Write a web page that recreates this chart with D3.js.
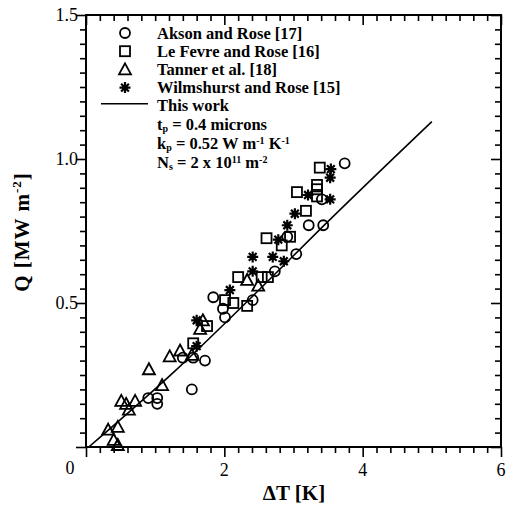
<!DOCTYPE html>
<html><head><meta charset="utf-8">
<script src="https://cdn.jsdelivr.net/npm/d3@7/dist/d3.min.js"></script>
<style>
html,body{margin:0;padding:0;background:#fff;}
svg text{font-family:"Liberation Serif","Times New Roman",serif;fill:#000;}
</style></head>
<body><svg id="c" width="513" height="507"></svg>
<script>
// ---- data (ΔT [K], Q [MW m^-2]) ----
const aksonRose = [[0.90,0.17],[1.03,0.17],[1.03,0.15],[1.53,0.20],[1.40,0.31],[1.55,0.31],[1.72,0.30],
  [1.84,0.52],[1.98,0.48],[2.01,0.45],[2.41,0.51],[2.73,0.61],[2.91,0.73],[3.04,0.67],[3.22,0.77],[3.43,0.77],[3.41,0.86],[3.74,0.985]];
const leFevreRose = [[1.55,0.36],[1.75,0.42],[2.01,0.51],[2.13,0.50],[2.33,0.49],[2.20,0.59],[2.54,0.59],[2.63,0.59],
  [2.61,0.725],[2.83,0.70],[2.95,0.73],[3.18,0.82],[3.05,0.885],[3.34,0.91],[3.34,0.895],[3.34,0.87],[3.38,0.97]];
const tanner = [[0.32,0.06],[0.46,0.07],[0.40,0.025],[0.46,0.007],[0.51,0.16],[0.71,0.16],[0.58,0.15],[0.62,0.13],
  [0.91,0.27],[1.10,0.215],[1.21,0.315],[1.36,0.335],[1.53,0.32],[1.69,0.44],[1.65,0.41],[2.33,0.58],[2.49,0.56]];
const wilmshurstRose = [[1.60,0.44],[1.60,0.35],[2.08,0.545],[2.41,0.61],[2.41,0.66],[2.70,0.66],[2.86,0.645],
  [2.78,0.72],[2.91,0.77],[3.02,0.81],[3.21,0.875],[3.53,0.86],[3.53,0.935],[3.54,0.965]];
const thisWork = [[0.04,0],[1.3,0.267],[2.5,0.545],[3.43,0.767],[5.0,1.13]];
const xTickLabels = [2,4,6];
const yTickLabels = [0.5,1.0,1.5];
const legendItems = ["Akson and Rose [17]","Le Fevre and Rose [16]","Tanner et al. [18]","Wilmshurst and Rose [15]"];

const svg = d3.select("#c");
const L=86, R=501, T=15, B=447;
const x = d3.scaleLinear().domain([0,6]).range([L,R]);
const y = d3.scaleLinear().domain([0,1.5]).range([B,T]);

const xMinor = d3.range(0,6.001,0.2).filter(v=>Math.abs(v/2-Math.round(v/2))>1e-6);
const yMinor = d3.range(0,1.5001,0.05).filter(v=>Math.abs(v/0.5-Math.round(v/0.5))>1e-6);
function ax(gen, tx, vals, len){
  const g = svg.append("g").attr("transform",tx).call(gen.tickValues(vals).tickSize(len).tickFormat(""));
  g.select(".domain").remove();
  g.selectAll("line").attr("stroke","#000").attr("stroke-width",1.6);
  return g;
}
ax(d3.axisBottom(x), `translate(0,${B})`, xMinor, 6);
ax(d3.axisBottom(x), `translate(0,${B})`, [0,2,4,6], 10);
ax(d3.axisTop(x), `translate(0,${T})`, xMinor, -6);
ax(d3.axisTop(x), `translate(0,${T})`, [0,2,4,6], -10);
ax(d3.axisLeft(y), `translate(${L},0)`, yMinor, 6);
ax(d3.axisLeft(y), `translate(${L},0)`, [0,0.5,1,1.5], 10);
ax(d3.axisRight(y), `translate(${R},0)`, yMinor, -6);
ax(d3.axisRight(y), `translate(${R},0)`, [0,0.5,1,1.5], -10);
svg.append("rect").attr("x",L).attr("y",T).attr("width",R-L).attr("height",B-T)
  .attr("fill","none").attr("stroke","#000").attr("stroke-width",2);

svg.selectAll(".xl").data(xTickLabels).enter().append("text")
  .attr("x",d=>x(d)).attr("y",B+29).attr("text-anchor","middle").attr("font-size",18).text(d=>d);
svg.append("text").attr("x",x(0)-16).attr("y",B+27).attr("text-anchor","middle").attr("font-size",18).text("0");
svg.selectAll(".yl").data(yTickLabels).enter().append("text")
  .attr("x",L-8).attr("y",d=>y(d)+6).attr("text-anchor","end").attr("font-size",18).text(d=>d.toFixed(1));

svg.append("text").attr("x",294).attr("y",500).attr("text-anchor","middle")
  .attr("font-size",21).attr("font-weight","bold").text("ΔT [K]");
const yt = svg.append("text").attr("transform","translate(29,232) rotate(-90)").attr("text-anchor","middle")
  .attr("font-size",21).attr("font-weight","bold").attr("letter-spacing",1);
yt.append("tspan").text("Q [MW m");
yt.append("tspan").attr("font-size",13).attr("dy",-8).text("-2");
yt.append("tspan").attr("dy",8).text("]");

svg.append("path").datum(thisWork).attr("fill","none").attr("stroke","#000").attr("stroke-width",1.6)
  .attr("d",d3.line().x(d=>x(d[0])).y(d=>y(d[1])).curve(d3.curveMonotoneX));

const sw=1.8;
function circle(g){g.append("circle").attr("r",5).attr("fill","none").attr("stroke","#000").attr("stroke-width",sw);}
function square(g){g.append("rect").attr("x",-5).attr("y",-5).attr("width",10).attr("height",10).attr("fill","none").attr("stroke","#000").attr("stroke-width",sw);}
function tri(g){g.append("path").attr("d","M0,-6L6,5L-6,5Z").attr("fill","none").attr("stroke","#000").attr("stroke-width",sw);}
function ast(g){
  let d="";
  for(let i=0;i<4;i++){const a=i*Math.PI/4, c=Math.cos(a)*5.5, s=Math.sin(a)*5.5; d+=`M${-c},${-s}L${c},${s}`;}
  g.append("path").attr("d",d).attr("stroke","#000").attr("stroke-width",2.2);
}
function plot(data, fn){
  svg.append("g").selectAll("g").data(data).enter().append("g")
    .attr("transform",d=>`translate(${x(d[0])},${y(d[1])})`).each(function(){fn(d3.select(this));});
}
plot(aksonRose,circle);
plot(leFevreRose,square);
plot(tanner,tri);
plot(wilmshurstRose,ast);

const lx=125, ty=33, dy=18.2, fs=16.5;
const fns=[circle,square,tri,ast];
legendItems.forEach((t,i)=>{
  fns[i](svg.append("g").attr("transform",`translate(${lx},${ty+i*dy})`));
  svg.append("text").attr("x",157).attr("y",ty+i*dy+5.5).attr("font-size",fs).attr("font-weight","bold").text(t);
});
const ly = ty+4*dy;
svg.append("line").attr("x1",101).attr("x2",148).attr("y1",ly-2).attr("y2",ly-2).attr("stroke","#000").attr("stroke-width",1.6);
svg.append("text").attr("x",157).attr("y",ly+5.5).attr("font-size",fs).attr("font-weight","bold").text("This work");
// parts: [text, dy, small]
function subLine(i, parts){
  const t = svg.append("text").attr("x",157).attr("y",ly+5.5+i*18.8).attr("font-size",fs).attr("font-weight","bold");
  parts.forEach(p=>{
    const s=t.append("tspan").text(p[0]);
    if(p[1]) s.attr("dy",p[1]);
    s.attr("font-size", p[2] ? 10 : fs);
  });
}
subLine(1,[["t",0,0],["p",2,1],[" = 0.4 microns",-2,0]]);
subLine(2,[["k",0,0],["p",2,1],[" = 0.52 W m",-2,0],["-1",-5,1],[" K",5,0],["-1",-5,1]]);
subLine(3,[["N",0,0],["s",2,1],[" = 2 x 10",-2,0],["11",-5,1],[" m",5,0],["-2",-5,1]]);
</script></body></html>
